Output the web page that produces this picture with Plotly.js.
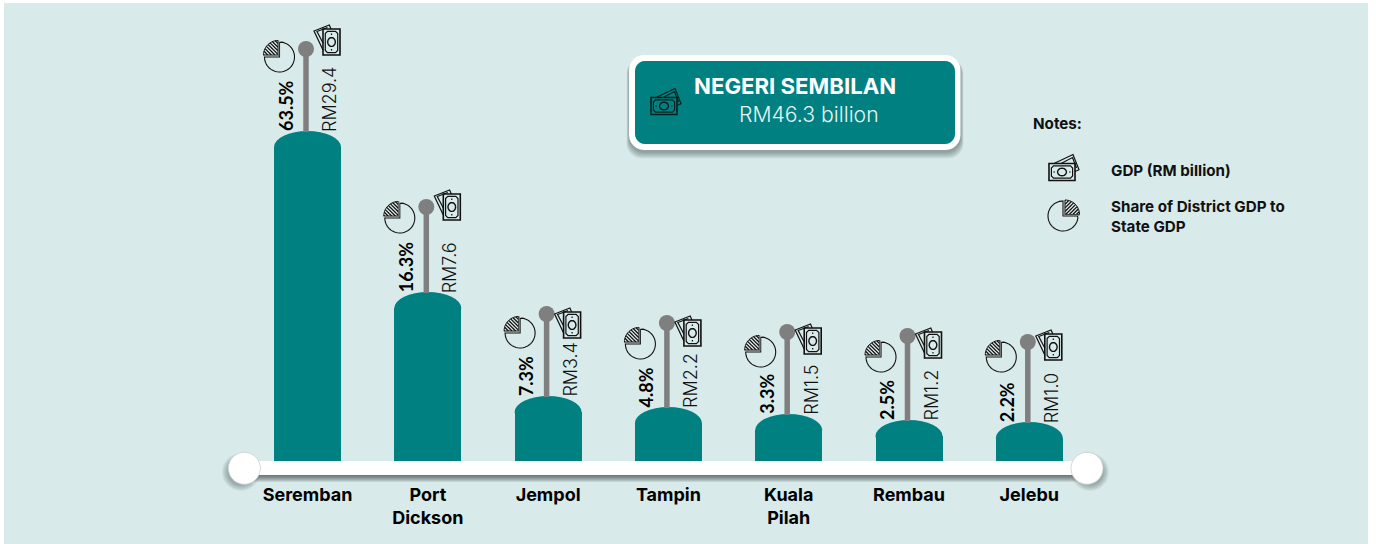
<!DOCTYPE html>
<html>
<head>
<meta charset="utf-8">
<script src="https://cdn.plot.ly/plotly-3.0.1.min.js"></script>
<style>html,body{margin:0;padding:0;background:#fff}#chart{width:1376px;height:544px}</style>
</head>
<body>
<div id="chart"></div>
<script>
// ---- data ----
const districts = ['Seremban', 'Port<br>Dickson', 'Jempol', 'Tampin', 'Kuala<br>Pilah', 'Rembau', 'Jelebu'];
const gdpLabels = ['RM29.4', 'RM7.6', 'RM3.4', 'RM2.2', 'RM1.5', 'RM1.2', 'RM1.0'];
const shareLabels = ['63.5%', '16.3%', '7.3%', '4.8%', '3.3%', '2.5%', '2.2%'];
// the picture's bars are illustrative (not linear in GDP); heights as drawn
const barHeights = [330, 169, 65, 54, 47, 41, 39];
const pinHeights = [412, 254, 147, 138, 129, 125, 119];
const moneyHeights = [419, 254, 136, 128, 120, 116, 114];
const pieHeights = [404, 243, 128, 117, 109, 104, 104];

// ---- layout constants ----
const W = 1376, H = 544, BASE = 461, X0 = 307.5, STEP = 120.3;
const TEAL = '#008080', GREY = '#7f7f7f', BG = '#d8ebea', INK = '#111111';
const FONT = 'Inter, Lato, sans-serif';
const CAP = 16, BARW = 67 / STEP;
const xOf = px => (px - X0) / STEP;
const yOf = py => BASE - py;

const shapes = [];
function pathShape(cx, cy, d, o) {
  shapes.push(Object.assign({
    type: 'path', xref: 'x', yref: 'y', xsizemode: 'pixel', ysizemode: 'pixel',
    xanchor: cx, yanchor: cy, path: d, layer: 'above', line: {width: 0}
  }, o));
}
function rot(p, deg) {
  const a = deg * Math.PI / 180;
  return [p[0] * Math.cos(a) - p[1] * Math.sin(a), p[0] * Math.sin(a) + p[1] * Math.cos(a)];
}
function poly(pts, deg, close) {
  return pts.map((p, i) => {
    const q = rot(p, deg || 0);
    return (i ? 'L' : 'M') + q[0].toFixed(2) + ' ' + (-q[1]).toFixed(2);
  }).join(' ') + (close ? ' Z' : '');
}
function arc(cx, cy, rx, ry, a0, a1, n) {
  const out = [];
  for (let i = 0; i <= n; i++) {
    const a = (a0 + (a1 - a0) * i / n) * Math.PI / 180;
    out.push([cx + rx * Math.cos(a), cy + ry * Math.sin(a)]);
  }
  return out;
}
function roundRect(x0, y0, x1, y1, r) {
  return [].concat(
    arc(x1 - r, y0 + r, r, r, -90, 0, 6), arc(x1 - r, y1 - r, r, r, 0, 90, 6),
    arc(x0 + r, y1 - r, r, r, 90, 180, 6), arc(x0 + r, y0 + r, r, r, 180, 270, 6));
}
function pieIcon(cx, cy, deg) {
  const R = 15, st = {line: {color: INK, width: 1.1}};
  const body = [[0, -R + 0.5]].concat(arc(0, 0, R, R, -90, 180, 40).slice(1), [[0, 0]]);
  pathShape(cx, cy, poly(body, deg, true), st);
  const ox = -1.5, oy = -2, r = 14.5;
  pathShape(cx, cy, poly([[ox, oy]].concat(arc(ox, oy, r, r, 180, 270, 14)), deg, true),
    {line: {color: INK, width: 1}, fillcolor: 'rgba(255,255,255,0.25)'});
  for (let c = -15; c <= 15; c += 3.6) {
    let a = null, b = null;
    for (let t = -r; t <= 0; t += 0.1) {
      const y = t + c;
      if (y <= 0 && t * t + y * y <= r * r) { if (a === null) a = t; b = t; }
    }
    if (a !== null && b - a > 0.3) {
      pathShape(cx, cy, poly([[ox + a, oy + a + c], [ox + b, oy + b + c]], deg), {line: {color: INK, width: 1.3}});
    }
  }
  pathShape(cx, cy, poly([[ox - r, oy + 0.6], [ox + 0.6, oy + 0.6], [ox + 0.6, oy - r]], deg), {line: {color: '#777', width: 1.4}});
}
function moneyIcon(cx, cy, deg, color) {
  const st = {line: {color: color || INK, width: 1.2}};
  pathShape(cx, cy, poly([[-8.5, 8], [-17.5, -11], [-2.2, -17], [-0.5, -13]], deg), st);
  pathShape(cx, cy, poly([[-8.5, 1], [-14.5, -10.5], [-4, -14.5]], deg), st);
  pathShape(cx, cy, poly([[-8.5, -13], [8.5, -13], [8.5, 13], [-8.5, 13]], deg, true),
    {line: {color: color || INK, width: 1.6}});
  pathShape(cx, cy, poly([[-6.2, -8.5], [-4, -10.6], [4, -10.6], [6.2, -8.5], [6.2, 8.5], [4, 10.6], [-4, 10.6], [-6.2, 8.5]], deg, true), st);
  pathShape(cx, cy, poly(arc(0, 0, 3.8, 4.4, 0, 360, 24), deg, true), {line: {color: color || INK, width: 1.4}});
  pathShape(cx, cy, poly([[0, -8.6], [0, -7]], deg), st);
  pathShape(cx, cy, poly([[0, 7], [0, 8.6]], deg), st);
}

// panel background
shapes.push({type: 'rect', xref: 'x', yref: 'y', x0: xOf(4), x1: xOf(1368), y0: yOf(3), y1: yOf(544),
  fillcolor: BG, line: {width: 0}, layer: 'below'});

// rounded bar tops, sized through the axes
barHeights.forEach((h, i) => {
  shapes.push({type: 'circle', xref: 'x', yref: 'y', x0: i - BARW / 2, x1: i + BARW / 2,
    y0: h - 2 * CAP, y1: h, fillcolor: TEAL, line: {width: 0}, layer: 'below'});
});

// timeline shadow, bar and end knobs
for (let k = 6; k >= 0; k--) {
  pathShape(xOf(666), yOf(471), poly(roundRect(-415, -8, 415, 5 + k, 3), 0, true),
    {fillcolor: 'rgba(40,50,50,0.12)', layer: 'above'});
  pathShape(xOf(241), yOf(472), poly(arc(0, 0, 13 + k, 13 + k, 0, 360, 40), 0, true),
    {fillcolor: 'rgba(40,50,50,0.06)', layer: 'above'});
  pathShape(xOf(1090), yOf(472), poly(arc(0, 0, 13 + k, 13 + k, 0, 360, 40), 0, true),
    {fillcolor: 'rgba(40,50,50,0.06)', layer: 'above'});
}
shapes.push({type: 'rect', xref: 'x', yref: 'y', x0: xOf(245), x1: xOf(1087), y0: yOf(461), y1: yOf(475),
  fillcolor: '#ffffff', line: {width: 0}, layer: 'above'});
[244.3, 1087].forEach(px => pathShape(xOf(px), yOf(468.3), poly(arc(0, 0, 16, 16, 0, 360, 48), 0, true),
  {fillcolor: '#ffffff', line: {color: '#c9cccc', width: 0.8}}));

// title box
const bx = xOf(795), by = yOf(102.5);
for (let k = 6; k >= 0; k--) {
  pathShape(bx, by, poly(roundRect(-166 - k * 0.4, -44, 166 + k * 0.4, 50 + k, 15), 0, true),
    {fillcolor: 'rgba(40,50,50,0.07)'});
}
pathShape(bx, by, poly(roundRect(-166, -47.5, 165.5, 47.5, 15), 0, true), {fillcolor: '#ffffff'});
pathShape(bx, by, poly(roundRect(-160, -41.5, 160, 41.5, 10), 0, true), {fillcolor: TEAL});
moneyIcon(xOf(664), yOf(106), 90, '#06201f');

// per-district icons
districts.forEach((_, i) => {
  moneyIcon(i + 24 / STEP, moneyHeights[i]);
  pieIcon(i - 28 / STEP, pieHeights[i], 0);
});
// legend icons
moneyIcon(xOf(1062), yOf(172), 90);
pieIcon(xOf(1063), yOf(216), 90);

const annotations = [];
const note = (txt, px, py, size, weight, color) => annotations.push({
  x: xOf(px - 2), y: yOf(py), xref: 'x', yref: 'y', text: txt, showarrow: false,
  xanchor: 'left', yanchor: 'middle', font: {family: FONT, size: size, weight: weight, color: color || '#111'}
});
districts.forEach((_, i) => {
  annotations.push({x: i, y: barHeights[i] + 1, xref: 'x', yref: 'y', xshift: -22, yshift: -3, text: shareLabels[i],
    textangle: -90, showarrow: false, xanchor: 'center', yanchor: 'bottom', font: {family: 'Lato, Inter, sans-serif', size: 18, weight: 700, color: '#000'}});
  annotations.push({x: i, y: barHeights[i] + 1, xref: 'x', yref: 'y', xshift: 22, yshift: -4, text: gdpLabels[i],
    textangle: -90, showarrow: false, xanchor: 'center', yanchor: 'bottom', font: {family: FONT, size: 18, weight: 300, color: '#111'}});
});
note('NEGERI SEMBILAN', 694, 85, 22.2, 700, '#ffffff');
note('RM46.3 billion', 739, 114, 21.2, 300, '#e8f4f4');
note('Notes:', 1033, 123, 15.2, 700);
note('GDP (RM billion)', 1111, 170, 15.2, 700);
note('Share of District GDP to', 1111, 206, 15.2, 700);
note('State GDP', 1111, 226, 15.2, 700);

// ---- traces ----
const traces = [{
  type: 'bar', x: districts.map((_, i) => i), y: barHeights.map(h => h - CAP),
  width: BARW, marker: {color: TEAL, line: {width: 0}}, hoverinfo: 'skip', showlegend: false
}];
districts.forEach((_, i) => {
  traces.push({
    type: 'scatter', mode: 'lines+markers', x: [i - 1.5 / STEP, i - 1.5 / STEP], y: [barHeights[i] - 1, pinHeights[i]],
    line: {color: GREY, width: 5.5}, marker: {color: GREY, size: [0, 16], opacity: 1, line: {width: 0}},
    hoverinfo: 'skip', showlegend: false, cliponaxis: false
  });
});

Plotly.newPlot('chart', traces, {
  width: W, height: H, margin: {l: 0, r: 0, t: 0, b: 0, pad: 0},
  paper_bgcolor: '#ffffff', plot_bgcolor: 'rgba(0,0,0,0)', showlegend: false,
  bargap: 0, barmode: 'overlay',
  xaxis: {range: [-X0 / STEP, (W - X0) / STEP], tickmode: 'array', tickvals: districts.map((_, i) => i), ticktext: districts,
    anchor: 'free', position: (H - BASE) / H,
    ticks: '', ticklen: 0, showline: false, showgrid: false, zeroline: false, tickangle: 0, ticklabelstandoff: 21,
    tickfont: {family: FONT, size: 18, color: '#000', weight: 700}},
  yaxis: {range: [BASE - H, BASE], visible: false, showgrid: false, zeroline: false, fixedrange: true},
  shapes: shapes, annotations: annotations
}, {displayModeBar: false, staticPlot: true});
</script>
</body>
</html>
